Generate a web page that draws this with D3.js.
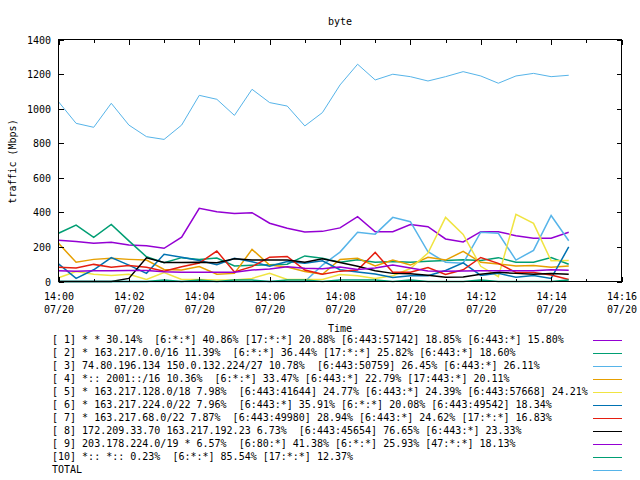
<!DOCTYPE html>
<html><head><meta charset="utf-8">
<script src="https://cdn.jsdelivr.net/npm/d3@7"></script>
<style>
body{margin:0;background:#fff}
svg{display:block}
text{font-family:"DejaVu Sans Mono",monospace;font-size:10px;fill:#000}
</style>
</head><body>
<svg id="c" width="640" height="480"></svg>
<script>
const times = ["14:00:00","14:00:30","14:01:00","14:01:30","14:02:00","14:02:30","14:03:00","14:03:30","14:04:00","14:04:30",
  "14:05:00","14:05:30","14:06:00","14:06:30","14:07:00","14:07:30","14:08:00","14:08:30","14:09:00","14:09:30",
  "14:10:00","14:10:30","14:11:00","14:11:30","14:12:00","14:12:30","14:13:00","14:13:30","14:14:00","14:14:30"];
const day = "2023-07-20";

const s1  = [238,232,221,227,211,207,192,256,423,404,394,398,337,308,286,290,310,375,288,288,329,317,246,229,288,288,265,250,250,285];
const s2  = [279,326,256,330,235,143,108,138,128,136,90,94,97,100,148,134,112,126,112,116,111,117,121,126,122,138,111,111,139,100];
const s3  = [0,0,0,0,0,0,0,0,0,0,0,0,0,0,0,95,170,285,274,371,346,172,112,106,285,279,124,180,382,236];
const s4  = [221,111,128,134,128,124,70,66,86,42,47,186,95,84,58,42,127,134,90,124,95,140,124,174,111,101,90,93,82,90];
const s5  = [22,58,42,35,42,12,52,12,12,9,9,18,47,12,12,12,41,33,18,33,75,165,371,272,88,28,388,336,120,122];
const s6  = [102,18,68,138,95,47,157,140,122,97,134,114,88,116,106,120,68,55,44,23,33,33,64,108,35,47,24,34,18,200];
const s7  = [82,78,99,82,93,82,59,85,107,176,55,86,141,145,66,42,60,66,168,53,53,81,41,68,139,105,52,52,38,11];
const s8  = [0,0,0,0,18,137,110,110,112,108,131,124,124,124,112,132,110,88,62,47,45,36,24,26,42,53,47,42,47,42];
const s9  = [62,60,62,62,64,64,56,53,53,53,53,66,72,85,76,74,84,70,78,96,78,61,60,61,62,62,62,62,68,65];
const s10 = [0,0,0,0,0,0,8,0,8,0,8,8,0,8,8,0,8,8,8,0,8,0,0,0,8,0,0,0,0,8];
const total = [1040,915,892,1031,905,838,822,905,1077,1054,961,1112,1035,1015,900,977,1137,1257,1166,1199,1185,1160,1185,1214,1189,1147,1189,1204,1185,1193];

const seriesNames = [
  "[ 1] * * 30.14%  [6:*:*] 40.86% [17:*:*] 20.88% [6:443:57142] 18.85% [6:443:*] 15.80%",
  "[ 2] * 163.217.0.0/16 11.39%  [6:*:*] 36.44% [17:*:*] 25.82% [6:443:*] 18.60%",
  "[ 3] 74.80.196.134 150.0.132.224/27 10.78%  [6:443:50759] 26.45% [6:443:*] 26.11%",
  "[ 4] *:: 2001::/16 10.36%  [6:*:*] 33.47% [6:443:*] 22.79% [17:443:*] 20.11%",
  "[ 5] * 163.217.128.0/18 7.98%  [6:443:41644] 24.77% [6:443:*] 24.39% [6:443:57668] 24.21%",
  "[ 6] * 163.217.224.0/22 7.96%  [6:443:*] 35.91% [6:*:*] 20.08% [6:443:49542] 18.34%",
  "[ 7] * 163.217.68.0/22 7.87%  [6:443:49980] 28.94% [6:443:*] 24.62% [17:*:*] 16.83%",
  "[ 8] 172.209.33.70 163.217.192.23 6.73%  [6:443:45654] 76.65% [6:443:*] 23.33%",
  "[ 9] 203.178.224.0/19 * 6.57%  [6:80:*] 41.38% [6:*:*] 25.93% [47:*:*] 18.13%",
  "[10] *:: *:: 0.23%  [6:*:*] 85.54% [17:*:*] 12.37%",
  "TOTAL"
];
const seriesColors = ["#9400d3","#009e73","#56b4e9","#e69f00","#f0e442","#0072b2","#e51e10","#000000","#9400d3","#009e73","#56b4e9"];
const seriesWidths = [1.5,1.5,1.5,1.5,1.5,1.5,1.5,1.5,1.5,1.5,1];
const yTicks = [0,200,400,600,800,1000,1200,1400];
const xStart = "14:00:00", xEnd = "14:16:00";
const titleText = "byte", xLabel = "Time", yLabel = "traffic (Mbps)";

const allSeries = [s1,s2,s3,s4,s5,s6,s7,s8,s9,s10,total];
const parse = d3.timeParse("%Y-%m-%d %H:%M:%S");
const dates = times.map(t => parse(day + " " + t));

const L = 58.5, R = 621.5, T = 39.5, B = 281.5;
const x = d3.scaleTime().domain([parse(day+" "+xStart), parse(day+" "+xEnd)]).range([L, R]);
const y = d3.scaleLinear().domain([0, 1400]).range([B, T]);

const svg = d3.select("#c");

// series
const line = d3.line().x((d,i) => x(dates[i])).y(d => y(d));
const g = svg.append("g");
allSeries.forEach((s, k) => {
  g.append("path").datum(s).attr("d", line)
    .attr("fill","none").attr("stroke", seriesColors[k])
    .attr("stroke-width", seriesWidths[k]).attr("stroke-linejoin","miter");
});

// border
svg.append("rect").attr("x", L).attr("y", T).attr("width", R-L).attr("height", B-T)
  .attr("fill","none").attr("stroke","#000").attr("stroke-width",1).attr("shape-rendering","crispEdges");

const majors = d3.timeMinute.every(2).range(x.domain()[0], d3.timeMinute.offset(x.domain()[1],1));
const minors = d3.timeMinute.every(1).range(x.domain()[0], d3.timeMinute.offset(x.domain()[1],1)).filter(d => d.getMinutes()%2===1);

function styleAxis(sel){
  sel.select(".domain").remove();
  sel.selectAll("line").attr("stroke","#000").attr("shape-rendering","crispEdges");
}
// bottom major with labels
const bx = svg.append("g").attr("transform",`translate(0,${B})`)
  .call(d3.axisBottom(x).tickValues(majors).tickSizeInner(-5).tickSizeOuter(0).tickFormat(d3.timeFormat("%H:%M")));
styleAxis(bx);
bx.selectAll("text").each(function(d){
  const t = d3.select(this);
  t.text(null).attr("y", null).attr("dy", null).attr("fill","#000")
   .attr("font-family","DejaVu Sans Mono").attr("font-size",10);
  t.append("tspan").attr("x",0).attr("y", 300 - B).text(d3.timeFormat("%H:%M")(d));
  t.append("tspan").attr("x",0).attr("y", 313 - B).text(d3.timeFormat("%m/%d")(d));
});
svg.append("g").attr("transform",`translate(0,${B})`)
  .call(d3.axisBottom(x).tickValues(minors).tickSizeInner(-3).tickSizeOuter(0).tickFormat(""))
  .call(styleAxis);
// top mirror
svg.append("g").attr("transform",`translate(0,${T})`)
  .call(d3.axisTop(x).tickValues(majors).tickSizeInner(-5).tickSizeOuter(0).tickFormat(""))
  .call(styleAxis);
svg.append("g").attr("transform",`translate(0,${T})`)
  .call(d3.axisTop(x).tickValues(minors).tickSizeInner(-3).tickSizeOuter(0).tickFormat(""))
  .call(styleAxis);
// left y
const ly = svg.append("g").attr("transform",`translate(${L},0)`)
  .call(d3.axisLeft(y).tickValues(yTicks).tickSizeInner(-5).tickSizeOuter(0).tickPadding(7).tickFormat(d3.format("d")));
styleAxis(ly);
ly.selectAll("text").attr("x", 51 - L).attr("dy", null).attr("y", 3.5)
  .attr("font-family","DejaVu Sans Mono").attr("font-size",10).attr("fill","#000");
// right mirror
svg.append("g").attr("transform",`translate(${R},0)`)
  .call(d3.axisRight(y).tickValues(yTicks).tickSizeInner(-5).tickSizeOuter(0).tickFormat(""))
  .call(styleAxis);

// titles
svg.append("text").attr("x", 340).attr("y", 25).attr("text-anchor","middle").text(titleText);
svg.append("text").attr("x", 340).attr("y", 332).attr("text-anchor","middle").text(xLabel);
svg.append("text").attr("transform","translate(15.5,161.5) rotate(-90)").attr("text-anchor","middle").text(yLabel);

// legend
const lg = svg.append("g");
seriesNames.forEach((name, k) => {
  const cy = 340 + 13*k;
  lg.append("text").attr("x", 52).attr("y", cy + 3.2).style("white-space","pre").text(name);
  lg.append("line").attr("x1", 593).attr("x2", 622).attr("y1", cy + 0.5).attr("y2", cy + 0.5)
    .attr("stroke", seriesColors[k]).attr("stroke-width", 1).attr("shape-rendering","crispEdges");
});
</script>
</body></html>
